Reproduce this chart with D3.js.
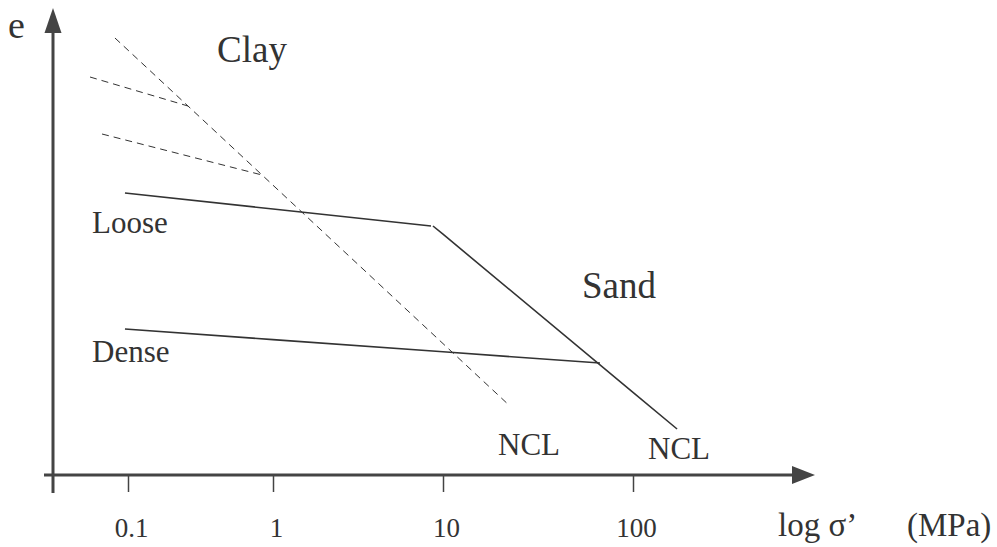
<!DOCTYPE html>
<html>
<head>
<meta charset="utf-8">
<script src="https://cdn.jsdelivr.net/npm/d3@7"></script>
<style>
  body { margin: 0; background: #fff; }
  text { font-family: "Liberation Serif", "Times New Roman", serif; fill: #333; }
</style>
</head>
<body>
<svg id="chart" width="997" height="547"></svg>
<script>
// tick positions on the stress axis (MPa) and their labels
var tickValues = [0.1, 1, 10, 100];
var tickLabels = ["0.1", "1", "10", "100"];

// lines as [stress (MPa), void ratio e]
var looseLine = [[0.0953, 1.41], [1, 1.33], [8.50, 1.245]];
var denseLine = [[0.0953, 0.73], [1, 0.677], [10, 0.616], [67.0, 0.56]];
var sandNCL = [[8.73, 1.245], [10, 1.204], [100, 0.413], [170.6, 0.23]];
var clayNCL = [[0.0813, 2.185], [1, 1.449], [10, 0.657], [22.5, 0.345]];
var clayUnload1 = [[0.0547, 1.99], [0.259, 1.845]];
var clayUnload2 = [[0.0662, 1.705], [0.840, 1.50]];

var svg = d3.select("#chart");

var axisY = 475, axisX = 53;

// schematic: decades are not evenly spaced in the original drawing
var x = d3.scaleLog()
    .domain(tickValues)
    .range([128, 273, 443, 633]);

var y = d3.scaleLinear()
    .domain([0, 2])
    .range([axisY, 75]);

var line = d3.line()
    .x(function (d) { return x(d[0]); })
    .y(function (d) { return y(d[1]); });

// axes
var axisColor = "#444";
svg.append("line")
    .attr("x1", 44).attr("x2", 794)
    .attr("y1", axisY).attr("y2", axisY)
    .attr("stroke", axisColor).attr("stroke-width", 3);
svg.append("polygon")
    .attr("points", "792," + (axisY - 9) + " 815," + axisY + " 792," + (axisY + 9))
    .attr("fill", axisColor);

svg.append("line")
    .attr("x1", axisX).attr("x2", axisX)
    .attr("y1", 493).attr("y2", 31)
    .attr("stroke", axisColor).attr("stroke-width", 3);
svg.append("polygon")
    .attr("points", (axisX - 8.5) + ",33 " + axisX + ",8 " + (axisX + 8.5) + ",33")
    .attr("fill", axisColor);

var xAxis = svg.append("g")
    .attr("transform", "translate(0," + axisY + ")")
    .call(d3.axisBottom(x)
        .tickValues(tickValues)
        .tickFormat(function (d, i) { return tickLabels[i]; })
        .tickSize(17)
        .tickPadding(26));
xAxis.select(".domain").remove();
xAxis.selectAll(".tick line")
    .attr("stroke", axisColor)
    .attr("stroke-width", 1.5);
xAxis.selectAll(".tick text")
    .attr("font-size", 27)
    .attr("dx", 3)
    .style("font-family", "Liberation Serif, serif")
    .attr("fill", "#333");

// lines
var solid = [looseLine, denseLine, sandNCL];
svg.selectAll(".solid")
    .data(solid)
    .enter().append("path")
    .attr("class", "solid")
    .attr("d", line)
    .attr("fill", "none")
    .attr("stroke", "#333")
    .attr("stroke-width", 1.6);

var dashed = [clayNCL, clayUnload1, clayUnload2];
svg.selectAll(".dashed")
    .data(dashed)
    .enter().append("path")
    .attr("class", "dashed")
    .attr("d", line)
    .attr("fill", "none")
    .attr("stroke", "#333")
    .attr("stroke-width", 1)
    .attr("stroke-dasharray", "7,5");

// labels
function label(txt, px, py, size) {
    svg.append("text")
        .attr("x", px).attr("y", py)
        .attr("font-size", size)
        .text(txt);
}
label("e", 8, 38, 38);
label("Clay", 217, 62, 37);
label("Sand", 582, 298, 37);
label("Loose", 92, 233, 31);
label("Dense", 92, 362, 31);
label("NCL", 498, 455, 31);
label("NCL", 648, 459, 31);

var xl = svg.append("text")
    .attr("x", 778).attr("y", 536)
    .attr("font-size", 33);
xl.append("tspan").text("log σ\u2019");
xl.append("tspan").attr("x", 907).text("(MPa)");
</script>
</body>
</html>
